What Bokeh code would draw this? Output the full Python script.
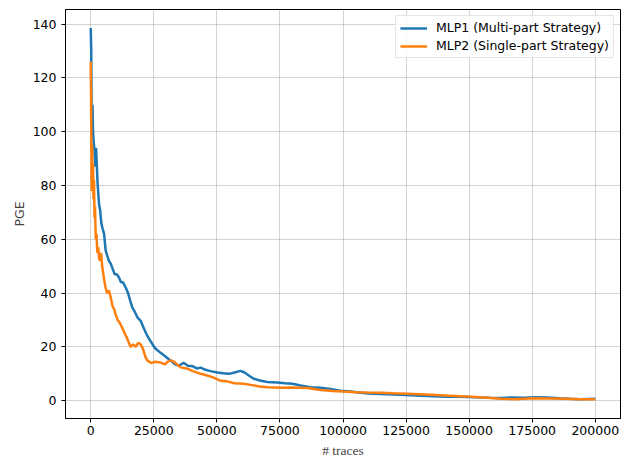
from bokeh.plotting import figure
from bokeh.models import Range1d, FixedTicker, Legend, LegendItem, NumeralTickFormatter
from bokeh.embed import file_html
from bokeh.resources import INLINE

# MLP1 (Multi-part Strategy)
mlp1_x = [0, 200, 300, 500, 700, 900, 1200, 1500, 1800, 2100, 2400, 2650, 3000, 3300, 3700,
          4200, 4700, 5300, 5900, 6500, 7200, 7900, 8700, 9500, 10300, 11100, 12000, 12800,
          13900, 14800, 15700, 16500, 17500, 18500, 19800, 21000, 22500, 23800, 25500, 27700,
          29500, 31700, 33500, 35000, 36800, 38500, 40500, 42000, 43600, 45500, 47500, 50200,
          52500, 55000, 57000, 59400, 61000, 62500, 64600, 67000, 70000, 73900, 77000, 80000,
          83200, 87000, 91000, 95000, 99000, 103000, 107000, 110000, 114900, 120000, 125000,
          130700, 136000, 141000, 146500, 152000, 158000, 163000, 166300, 172000, 176000,
          180900, 186000, 190000, 194000, 200000]
mlp1_y = [138.5, 130, 112, 104, 110, 100, 96, 93, 87, 94, 88, 82, 77, 73, 71,
          66, 64, 62, 56, 54, 52, 51, 49, 47, 47, 46, 44, 44,
          42, 40, 37, 34.6, 33, 31, 29.7, 27, 24, 22, 19.5, 17.8,
          16.5, 14.9, 13.5, 13, 14.1, 13, 12.8, 12, 12.3, 11.5, 11, 10.5,
          10.2, 10, 10.5, 11.1, 10.5, 9.5, 8.2, 7.5, 7, 6.8, 6.5, 6.3,
          5.7, 5, 4.8, 4.4, 3.7, 3.4, 3.0, 2.7, 2.5, 2.3, 2.1,
          1.9, 1.7, 1.5, 1.5, 1.3, 1.1, 1.0, 1.2, 1.1, 1.3,
          1.2, 0.9, 0.7, 0.6, 0.7]

# MLP2 (Single-part Strategy)
mlp2_x = [0, 150, 300, 400, 550, 700, 900, 1100, 1300, 1500, 1700, 2000, 2300, 2600, 3000,
          3300, 3700, 4100, 4600, 5000, 5500, 5900, 6500, 7250, 8000, 8700, 9300, 9900,
          10700, 11500, 12500, 13500, 14500, 15800, 16800, 17800, 18800, 19800, 20800, 21600,
          22400, 24000, 25500, 27700, 29500, 30500, 31700, 33000, 35600, 38000, 40500, 43600,
          46500, 49000, 51500, 54000, 57000, 60600, 64000, 67000, 70000, 75200, 80000, 85800,
          91100, 96000, 100000, 105000, 109600, 115000, 120000, 128000, 135000, 142000,
          149200, 156000, 162400, 168000, 175500, 182000, 188000, 194000, 200000]
mlp2_y = [126, 110, 85, 78, 95, 80, 88, 75, 82, 68, 72, 60, 62, 55, 57,
          53, 52, 55, 49.5, 47, 44, 42, 40, 41, 38, 35, 34, 32,
          30, 29, 27, 25, 23, 20, 21, 20, 21.5, 21, 19, 16.5,
          15, 14, 14.5, 14.2, 13.5, 14.5, 15, 14.5, 12.4, 12, 11, 10,
          9.3, 8.5, 7.4, 7.2, 6.5, 6.3, 5.8, 5.3, 5, 4.8, 4.9, 4.7,
          4.0, 3.6, 3.4, 3.2, 3.1, 3.0, 2.8, 2.5, 2.2, 1.9,
          1.6, 1.2, 0.7, 0.6, 0.9, 0.8, 0.7, 0.6, 0.6]

x_ticks = [0, 25000, 50000, 75000, 100000, 125000, 150000, 175000, 200000]
y_ticks = [0, 20, 40, 60, 80, 100, 120, 140]

p = figure(width=630, height=461, output_backend="svg", toolbar_location=None,
           x_range=Range1d(-10000, 210000), y_range=Range1d(-6.6, 145.4),
           min_border_left=65, min_border_right=10, min_border_top=9, min_border_bottom=43)

p.background_fill_color = "white"
p.border_fill_color = "white"
p.outline_line_color = "black"
p.outline_line_width = 1

for ax in (p.xaxis, p.yaxis):
    ax.axis_line_color = "black"
    ax.major_tick_line_color = "black"
    ax.major_tick_out = 4
    ax.major_tick_in = 0
    ax.minor_tick_line_color = None
    ax.major_label_text_font = "DejaVu Sans"
    ax.major_label_text_font_size = "12.5px"
    ax.major_label_text_color = "black"

p.xaxis.ticker = FixedTicker(ticks=x_ticks)
p.yaxis.ticker = FixedTicker(ticks=y_ticks)
p.xaxis.formatter = NumeralTickFormatter(format="0")
p.xaxis.major_label_standoff = 3
p.yaxis.major_label_standoff = 5

p.xaxis.axis_label = "# traces"
p.xaxis.axis_label_text_font = "Liberation Serif"
p.xaxis.axis_label_text_font_style = "normal"
p.xaxis.axis_label_text_font_size = "13.5px"
p.xaxis.axis_label_standoff = 5

p.yaxis.axis_label = "PGE"
p.yaxis.axis_label_text_font = "DejaVu Sans"
p.yaxis.axis_label_text_font_style = "normal"
p.yaxis.axis_label_text_font_size = "12.5px"
p.yaxis.axis_label_standoff = 3

p.xgrid.grid_line_color = "#b0b0b0"
p.ygrid.grid_line_color = "#b0b0b0"
p.xgrid.grid_line_width = 0.8
p.ygrid.grid_line_width = 0.8
p.xgrid.grid_line_alpha = 0.7
p.ygrid.grid_line_alpha = 0.7

r1 = p.line(mlp1_x, mlp1_y, line_color="#1f77b4", line_width=2.5)
r2 = p.line(mlp2_x, mlp2_y, line_color="#ff7f0e", line_width=2.5)

legend = Legend(items=[LegendItem(label="MLP1 (Multi-part Strategy)", renderers=[r1]),
                       LegendItem(label="MLP2 (Single-part Strategy)", renderers=[r2])],
                location="top_right", margin=6, padding=4, spacing=3,
                glyph_width=27, glyph_height=14, label_height=14, label_standoff=9,
                label_text_font="DejaVu Sans", label_text_font_size="12.5px",
                label_text_color="black",
                border_line_color="#cccccc", border_line_width=1,
                background_fill_color="white", background_fill_alpha=0.8)
p.add_layout(legend)

open("out.html", "w").write(file_html(p, INLINE))
